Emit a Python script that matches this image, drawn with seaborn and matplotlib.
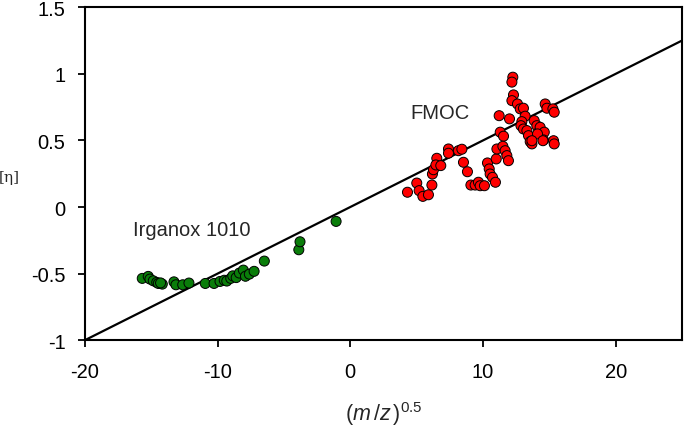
import numpy as np
import pandas as pd
import seaborn as sns
import matplotlib.pyplot as plt

# Irganox 1010 points
irg_x = [-15.68, -15.23, -15.10, -14.85, -14.59, -14.47, -14.17, -14.30, -13.29, -13.14,
         -12.63, -12.16, -10.93, -10.27, -9.82, -9.50, -9.31, -9.01, -8.86, -8.60,
         -8.36, -8.06, -7.90, -7.61, -7.25, -6.48, -3.88, -3.79, -1.07]
irg_y = [-0.536, -0.521, -0.541, -0.554, -0.566, -0.574, -0.579, -0.570, -0.562, -0.584,
         -0.584, -0.571, -0.574, -0.574, -0.559, -0.550, -0.556, -0.536, -0.517, -0.530,
         -0.496, -0.474, -0.520, -0.504, -0.483, -0.406, -0.321, -0.261, -0.108]

# FMOC points
fmoc_x = [4.31, 5.01, 5.19, 5.47, 5.89, 6.15, 6.19, 6.27, 6.52, 6.45,
          6.82, 7.40, 7.40, 8.15, 8.41, 8.53, 8.83, 9.09, 9.41, 9.66,
          9.79, 10.11, 10.34, 10.47, 10.54, 10.72, 10.94, 11.00, 11.05, 11.22,
          11.30, 11.55, 11.50, 11.67, 11.80, 11.92, 12.00, 12.25, 12.18, 12.30,
          12.18, 12.60, 12.81, 13.05, 13.18, 12.93, 12.86, 13.05, 13.31, 13.43,
          13.56, 13.69, 13.86, 14.06, 14.19, 14.31, 14.62, 14.56, 14.69, 14.82,
          15.27, 15.37, 15.32, 15.37, 14.11, 14.52, 13.69]
fmoc_y = [0.111, 0.180, 0.123, 0.080, 0.092, 0.165, 0.248, 0.280, 0.366, 0.316,
          0.311, 0.436, 0.404, 0.423, 0.434, 0.336, 0.265, 0.165, 0.165, 0.186,
          0.160, 0.160, 0.331, 0.286, 0.248, 0.223, 0.186, 0.361, 0.436, 0.686,
          0.562, 0.532, 0.456, 0.423, 0.386, 0.348, 0.662, 0.975, 0.938, 0.842,
          0.799, 0.774, 0.737, 0.742, 0.682, 0.641, 0.611, 0.586, 0.574, 0.536,
          0.491, 0.474, 0.649, 0.611, 0.562, 0.599, 0.562, 0.504, 0.774, 0.742,
          0.737, 0.712, 0.498, 0.474, 0.549, 0.498, 0.498]

# fitted line
fit_slope = 0.05
fit_intercept = 0.0
x_limits = [-20, 25]
y_limits = [-1, 1.5]

sns.set_style("ticks")
plt.rcParams['font.family'] = ['Liberation Sans', 'DejaVu Sans']
plt.rcParams['mathtext.fontset'] = 'custom'
plt.rcParams['mathtext.rm'] = 'Liberation Sans'
plt.rcParams['mathtext.it'] = 'Liberation Sans:italic'

df = pd.concat([
    pd.DataFrame({'x': irg_x, 'y': irg_y, 'sample': 'Irganox 1010'}),
    pd.DataFrame({'x': fmoc_x, 'y': fmoc_y, 'sample': 'FMOC'}),
])

fig = plt.figure(figsize=(6.85, 4.27), dpi=100)
ax = fig.add_axes([0.124, 0.201, 0.8716, 0.7796])

line_x = np.array(x_limits)
sns.lineplot(x=line_x, y=fit_slope * line_x + fit_intercept, color='black',
             linewidth=1.6, ax=ax)
sns.scatterplot(data=df, x='x', y='y', hue='sample',
                palette={'Irganox 1010': '#0a7d0a', 'FMOC': '#ff0000'},
                s=52, edgecolor='black', linewidth=0.7, legend=False, ax=ax, zorder=3)

ax.set_xlim(x_limits)
ax.set_ylim(y_limits)
ax.set_xticks([-20, -10, 0, 10, 20])
ax.set_xticklabels(['-20', '-10', '0', '10', '20'])
ax.set_yticks([-1, -0.5, 0, 0.5, 1, 1.5])
ax.set_yticklabels(['-1', '-0.5', '0', '0.5', '1', '1.5'])
ax.tick_params(axis='both', direction='out', length=5, width=1.3, labelsize=14.5,
               colors='black')
ax.tick_params(axis='y', pad=9)
ax.tick_params(axis='x', pad=11)
for sp in ax.spines.values():
    sp.set_linewidth(1.5)
    sp.set_color('black')

ax.set_xlabel(r'$(m\,/z\,)^{0.5}$', fontsize=15.5, labelpad=13)
ax.set_ylabel('[η]', fontsize=11, family='DejaVu Serif', rotation=0,
              ha='center', va='center')
ax.yaxis.set_label_coords(-0.126, 0.49)

ax.text(4.5, 0.71, 'FMOC', fontsize=14.5, ha='left', va='center')
ax.text(-16.4, -0.17, 'Irganox 1010', fontsize=14.5, ha='left', va='center')

fig.savefig('out.png', dpi=100)
